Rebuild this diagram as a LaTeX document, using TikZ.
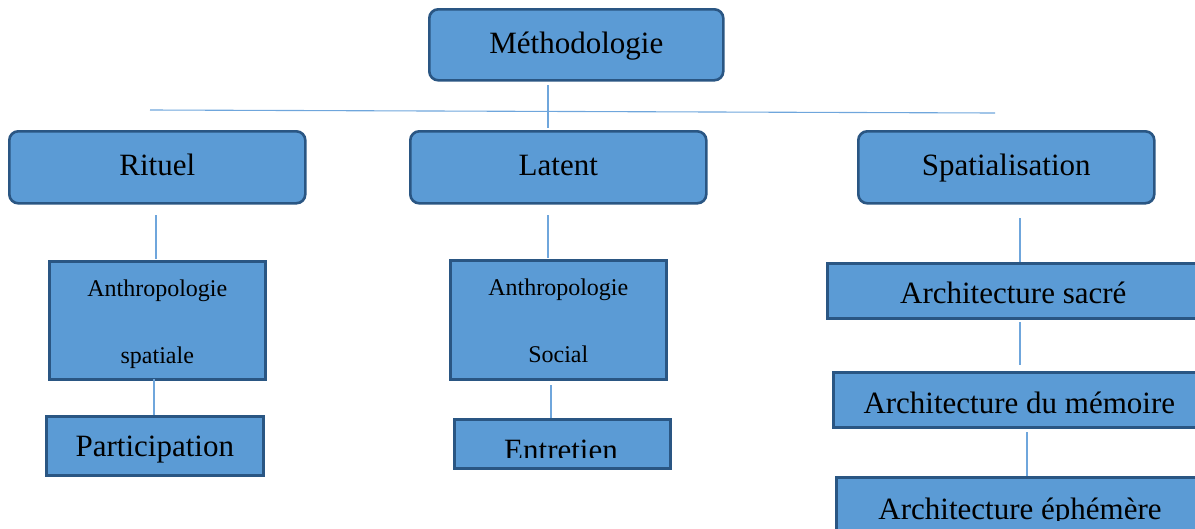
\documentclass[tikz,border=0pt]{standalone}
\usepackage{fontspec}
\setmainfont{Liberation Serif}
\definecolor{boxfill}{HTML}{5B9BD5}
\definecolor{boxline}{HTML}{2A5683}
\definecolor{conncol}{HTML}{6FA6DC}
\tikzset{
  rbox/.style={draw=boxline, fill=boxfill, line width=2.6pt, rounded corners=9pt, anchor=north west, inner sep=0pt, text height=17pt, text depth=0pt},
  sbox/.style={draw=boxline, fill=boxfill, line width=2.6pt, anchor=north west, inner sep=0pt, text depth=0pt},
  big/.style={font=\fontsize{31}{36}\selectfont},
  small/.style={font=\fontsize{24}{67}\selectfont, align=center, text height=86pt},
  conn/.style={draw=conncol, line width=1.1pt},
}
\begin{document}
\begin{tikzpicture}[x=1pt,y=-1pt]
\useasboundingbox (0,0) rectangle (1195,528);
\begin{scope}
\clip (0,0) rectangle (1195,528);
% top
\node[rbox, big, minimum width=294pt, minimum height=71pt] (meth) at (428,8) {Méthodologie};
\node[rbox, big, minimum width=296pt, minimum height=72pt] (rituel) at (8,130) {Rituel};
\node[rbox, big, minimum width=296pt, minimum height=72pt] (latent) at (409,130) {Latent};
\node[rbox, big, minimum width=296pt, minimum height=72pt] (spat) at (857,130) {Spatialisation};
% left column
\node[sbox, small, minimum width=216pt, minimum height=118pt] (anthsp) at (48,260) {Anthropologie\\spatiale};
\node[sbox, big, text height=21pt, minimum width=217pt, minimum height=59pt] (part) at (45,415) {Participation};
% middle column
\node[sbox, small, minimum width=216pt, minimum height=119pt] (anthso) at (449,259) {Anthropologie\\Social};
\node[sbox, minimum width=216pt, minimum height=49pt] (entr) at (453,418) {};
% right column
\node[sbox, big, text height=26pt, minimum width=372pt, minimum height=55pt] (archs) at (826,262) {Architecture sacré};
\node[sbox, big, text height=28pt, minimum width=372pt, minimum height=55pt] (archm) at (832,371) {Architecture du mémoire};
\node[sbox, minimum width=372pt, minimum height=70pt] (arche) at (835,476) {};
\end{scope}
\begin{scope}
\clip (450,415) rectangle (672,457);
\node[big, anchor=base, inner sep=0pt] (entrtxt) at (561,460) {Entretien};
\end{scope}
\begin{scope}
\clip (830,480) rectangle (1195,520);
\node[big, anchor=base, inner sep=0pt] (archetxt) at (1020,519) {Architecture éphémère};
\end{scope}
% connectors
\coordinate (hl) at (150,110);
\coordinate (hr) at (995,113);
\coordinate (m1) at (548,85);
\coordinate (m2) at (548,128);
\draw[conn] (hl) -- (hr);
\draw[conn] (m1) -- (m2);
\coordinate (r1) at (156,215);
\coordinate (r2) at (156,259);
\draw[conn] (r1) -- (r2);
\coordinate (r3) at (154,379);
\coordinate (r4) at (154,415);
\draw[conn] (r3) -- (r4);
\coordinate (l1) at (548,215);
\coordinate (l2) at (548,258);
\draw[conn] (l1) -- (l2);
\coordinate (l3) at (551,385);
\coordinate (l4) at (551,418);
\draw[conn] (l3) -- (l4);
\coordinate (s1) at (1020,218);
\coordinate (s2) at (1020,262);
\draw[conn] (s1) -- (s2);
\coordinate (s3) at (1020,322);
\coordinate (s4) at (1020,365);
\draw[conn] (s3) -- (s4);
\coordinate (s5) at (1027,432);
\coordinate (s6) at (1027,476);
\draw[conn] (s5) -- (s6);
\end{tikzpicture}
\end{document}
